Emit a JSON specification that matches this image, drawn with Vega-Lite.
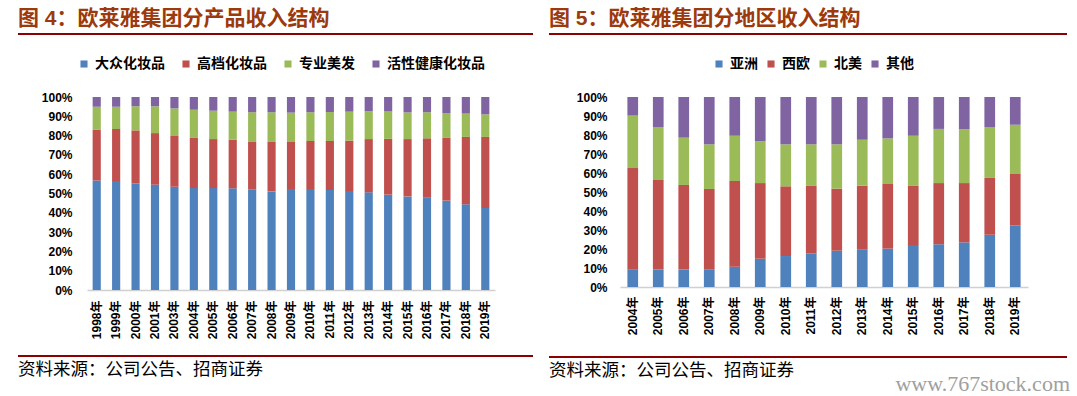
{
  "$schema": "https://vega.github.io/schema/vega-lite/v6.json",
  "background": "white",
  "padding": {"left": 18, "top": 8, "right": 0, "bottom": 0},
  "datasets": {
    "product": [
      {"year": "1998年", "cat": "大众化妆品", "k": 1, "v": 56.8}, {"year": "1998年", "cat": "高档化妆品", "k": 2, "v": 26.4}, {"year": "1998年", "cat": "专业美发", "k": 3, "v": 11.8}, {"year": "1998年", "cat": "活性健康化妆品", "k": 4, "v": 5.0},
      {"year": "1999年", "cat": "大众化妆品", "k": 1, "v": 56.5}, {"year": "1999年", "cat": "高档化妆品", "k": 2, "v": 26.9}, {"year": "1999年", "cat": "专业美发", "k": 3, "v": 11.6}, {"year": "1999年", "cat": "活性健康化妆品", "k": 4, "v": 5.0},
      {"year": "2000年", "cat": "大众化妆品", "k": 1, "v": 55.1}, {"year": "2000年", "cat": "高档化妆品", "k": 2, "v": 27.6}, {"year": "2000年", "cat": "专业美发", "k": 3, "v": 12.5}, {"year": "2000年", "cat": "活性健康化妆品", "k": 4, "v": 4.8},
      {"year": "2001年", "cat": "大众化妆品", "k": 1, "v": 54.6}, {"year": "2001年", "cat": "高档化妆品", "k": 2, "v": 26.7}, {"year": "2001年", "cat": "专业美发", "k": 3, "v": 13.9}, {"year": "2001年", "cat": "活性健康化妆品", "k": 4, "v": 4.8},
      {"year": "2003年", "cat": "大众化妆品", "k": 1, "v": 53.5}, {"year": "2003年", "cat": "高档化妆品", "k": 2, "v": 26.3}, {"year": "2003年", "cat": "专业美发", "k": 3, "v": 14.3}, {"year": "2003年", "cat": "活性健康化妆品", "k": 4, "v": 5.9},
      {"year": "2004年", "cat": "大众化妆品", "k": 1, "v": 52.8}, {"year": "2004年", "cat": "高档化妆品", "k": 2, "v": 26.0}, {"year": "2004年", "cat": "专业美发", "k": 3, "v": 14.6}, {"year": "2004年", "cat": "活性健康化妆品", "k": 4, "v": 6.6},
      {"year": "2005年", "cat": "大众化妆品", "k": 1, "v": 52.8}, {"year": "2005年", "cat": "高档化妆品", "k": 2, "v": 25.4}, {"year": "2005年", "cat": "专业美发", "k": 3, "v": 14.7}, {"year": "2005年", "cat": "活性健康化妆品", "k": 4, "v": 7.1},
      {"year": "2006年", "cat": "大众化妆品", "k": 1, "v": 52.7}, {"year": "2006年", "cat": "高档化妆品", "k": 2, "v": 25.2}, {"year": "2006年", "cat": "专业美发", "k": 3, "v": 14.5}, {"year": "2006年", "cat": "活性健康化妆品", "k": 4, "v": 7.6},
      {"year": "2007年", "cat": "大众化妆品", "k": 1, "v": 52.2}, {"year": "2007年", "cat": "高档化妆品", "k": 2, "v": 24.5}, {"year": "2007年", "cat": "专业美发", "k": 3, "v": 15.4}, {"year": "2007年", "cat": "活性健康化妆品", "k": 4, "v": 7.9},
      {"year": "2008年", "cat": "大众化妆品", "k": 1, "v": 51.1}, {"year": "2008年", "cat": "高档化妆品", "k": 2, "v": 25.6}, {"year": "2008年", "cat": "专业美发", "k": 3, "v": 15.4}, {"year": "2008年", "cat": "活性健康化妆品", "k": 4, "v": 7.9},
      {"year": "2009年", "cat": "大众化妆品", "k": 1, "v": 52.3}, {"year": "2009年", "cat": "高档化妆品", "k": 2, "v": 24.7}, {"year": "2009年", "cat": "专业美发", "k": 3, "v": 14.9}, {"year": "2009年", "cat": "活性健康化妆品", "k": 4, "v": 8.1},
      {"year": "2010年", "cat": "大众化妆品", "k": 1, "v": 52.3}, {"year": "2010年", "cat": "高档化妆品", "k": 2, "v": 24.9}, {"year": "2010年", "cat": "专业美发", "k": 3, "v": 14.9}, {"year": "2010年", "cat": "活性健康化妆品", "k": 4, "v": 7.9},
      {"year": "2011年", "cat": "大众化妆品", "k": 1, "v": 51.8}, {"year": "2011年", "cat": "高档化妆品", "k": 2, "v": 25.4}, {"year": "2011年", "cat": "专业美发", "k": 3, "v": 15.0}, {"year": "2011年", "cat": "活性健康化妆品", "k": 4, "v": 7.8},
      {"year": "2012年", "cat": "大众化妆品", "k": 1, "v": 51.3}, {"year": "2012年", "cat": "高档化妆品", "k": 2, "v": 26.1}, {"year": "2012年", "cat": "专业美发", "k": 3, "v": 15.0}, {"year": "2012年", "cat": "活性健康化妆品", "k": 4, "v": 7.6},
      {"year": "2013年", "cat": "大众化妆品", "k": 1, "v": 50.6}, {"year": "2013年", "cat": "高档化妆品", "k": 2, "v": 27.6}, {"year": "2013年", "cat": "专业美发", "k": 3, "v": 14.4}, {"year": "2013年", "cat": "活性健康化妆品", "k": 4, "v": 7.4},
      {"year": "2014年", "cat": "大众化妆品", "k": 1, "v": 49.4}, {"year": "2014年", "cat": "高档化妆品", "k": 2, "v": 28.9}, {"year": "2014年", "cat": "专业美发", "k": 3, "v": 14.2}, {"year": "2014年", "cat": "活性健康化妆品", "k": 4, "v": 7.5},
      {"year": "2015年", "cat": "大众化妆品", "k": 1, "v": 48.5}, {"year": "2015年", "cat": "高档化妆品", "k": 2, "v": 29.7}, {"year": "2015年", "cat": "专业美发", "k": 3, "v": 13.8}, {"year": "2015年", "cat": "活性健康化妆品", "k": 4, "v": 8.0},
      {"year": "2016年", "cat": "大众化妆品", "k": 1, "v": 48.0}, {"year": "2016年", "cat": "高档化妆品", "k": 2, "v": 30.6}, {"year": "2016年", "cat": "专业美发", "k": 3, "v": 13.5}, {"year": "2016年", "cat": "活性健康化妆品", "k": 4, "v": 7.9},
      {"year": "2017年", "cat": "大众化妆品", "k": 1, "v": 46.3}, {"year": "2017年", "cat": "高档化妆品", "k": 2, "v": 32.5}, {"year": "2017年", "cat": "专业美发", "k": 3, "v": 12.9}, {"year": "2017年", "cat": "活性健康化妆品", "k": 4, "v": 8.3},
      {"year": "2018年", "cat": "大众化妆品", "k": 1, "v": 44.4}, {"year": "2018年", "cat": "高档化妆品", "k": 2, "v": 34.9}, {"year": "2018年", "cat": "专业美发", "k": 3, "v": 12.1}, {"year": "2018年", "cat": "活性健康化妆品", "k": 4, "v": 8.6},
      {"year": "2019年", "cat": "大众化妆品", "k": 1, "v": 42.5}, {"year": "2019年", "cat": "高档化妆品", "k": 2, "v": 36.8}, {"year": "2019年", "cat": "专业美发", "k": 3, "v": 11.7}, {"year": "2019年", "cat": "活性健康化妆品", "k": 4, "v": 9.0}
    ],
    "region": [
      {"year": "2004年", "cat": "亚洲", "k": 1, "v": 9.1}, {"year": "2004年", "cat": "西欧", "k": 2, "v": 53.5}, {"year": "2004年", "cat": "北美", "k": 3, "v": 27.6}, {"year": "2004年", "cat": "其他", "k": 4, "v": 9.8},
      {"year": "2005年", "cat": "亚洲", "k": 1, "v": 9.3}, {"year": "2005年", "cat": "西欧", "k": 2, "v": 47.0}, {"year": "2005年", "cat": "北美", "k": 3, "v": 27.9}, {"year": "2005年", "cat": "其他", "k": 4, "v": 15.8},
      {"year": "2006年", "cat": "亚洲", "k": 1, "v": 9.3}, {"year": "2006年", "cat": "西欧", "k": 2, "v": 44.4}, {"year": "2006年", "cat": "北美", "k": 3, "v": 24.9}, {"year": "2006年", "cat": "其他", "k": 4, "v": 21.4},
      {"year": "2007年", "cat": "亚洲", "k": 1, "v": 9.1}, {"year": "2007年", "cat": "西欧", "k": 2, "v": 42.5}, {"year": "2007年", "cat": "北美", "k": 3, "v": 23.5}, {"year": "2007年", "cat": "其他", "k": 4, "v": 24.9},
      {"year": "2008年", "cat": "亚洲", "k": 1, "v": 10.7}, {"year": "2008年", "cat": "西欧", "k": 2, "v": 45.1}, {"year": "2008年", "cat": "北美", "k": 3, "v": 23.8}, {"year": "2008年", "cat": "其他", "k": 4, "v": 20.4},
      {"year": "2009年", "cat": "亚洲", "k": 1, "v": 14.9}, {"year": "2009年", "cat": "西欧", "k": 2, "v": 39.8}, {"year": "2009年", "cat": "北美", "k": 3, "v": 22.0}, {"year": "2009年", "cat": "其他", "k": 4, "v": 23.3},
      {"year": "2010年", "cat": "亚洲", "k": 1, "v": 16.3}, {"year": "2010年", "cat": "西欧", "k": 2, "v": 36.7}, {"year": "2010年", "cat": "北美", "k": 3, "v": 22.1}, {"year": "2010年", "cat": "其他", "k": 4, "v": 24.9},
      {"year": "2011年", "cat": "亚洲", "k": 1, "v": 17.7}, {"year": "2011年", "cat": "西欧", "k": 2, "v": 35.5}, {"year": "2011年", "cat": "北美", "k": 3, "v": 21.9}, {"year": "2011年", "cat": "其他", "k": 4, "v": 24.9},
      {"year": "2012年", "cat": "亚洲", "k": 1, "v": 19.1}, {"year": "2012年", "cat": "西欧", "k": 2, "v": 32.7}, {"year": "2012年", "cat": "北美", "k": 3, "v": 23.3}, {"year": "2012年", "cat": "其他", "k": 4, "v": 24.9},
      {"year": "2013年", "cat": "亚洲", "k": 1, "v": 19.6}, {"year": "2013年", "cat": "西欧", "k": 2, "v": 33.7}, {"year": "2013年", "cat": "北美", "k": 3, "v": 24.2}, {"year": "2013年", "cat": "其他", "k": 4, "v": 22.5},
      {"year": "2014年", "cat": "亚洲", "k": 1, "v": 20.2}, {"year": "2014年", "cat": "西欧", "k": 2, "v": 34.0}, {"year": "2014年", "cat": "北美", "k": 3, "v": 24.0}, {"year": "2014年", "cat": "其他", "k": 4, "v": 21.8},
      {"year": "2015年", "cat": "亚洲", "k": 1, "v": 21.6}, {"year": "2015年", "cat": "西欧", "k": 2, "v": 31.6}, {"year": "2015年", "cat": "北美", "k": 3, "v": 26.4}, {"year": "2015年", "cat": "其他", "k": 4, "v": 20.4},
      {"year": "2016年", "cat": "亚洲", "k": 1, "v": 22.5}, {"year": "2016年", "cat": "西欧", "k": 2, "v": 32.2}, {"year": "2016年", "cat": "北美", "k": 3, "v": 28.5}, {"year": "2016年", "cat": "其他", "k": 4, "v": 16.8},
      {"year": "2017年", "cat": "亚洲", "k": 1, "v": 23.5}, {"year": "2017年", "cat": "西欧", "k": 2, "v": 31.2}, {"year": "2017年", "cat": "北美", "k": 3, "v": 28.3}, {"year": "2017年", "cat": "其他", "k": 4, "v": 17.0},
      {"year": "2018年", "cat": "亚洲", "k": 1, "v": 27.5}, {"year": "2018年", "cat": "西欧", "k": 2, "v": 29.9}, {"year": "2018年", "cat": "北美", "k": 3, "v": 26.8}, {"year": "2018年", "cat": "其他", "k": 4, "v": 15.8},
      {"year": "2019年", "cat": "亚洲", "k": 1, "v": 32.3}, {"year": "2019年", "cat": "西欧", "k": 2, "v": 27.5}, {"year": "2019年", "cat": "北美", "k": 3, "v": 25.6}, {"year": "2019年", "cat": "其他", "k": 4, "v": 14.6}
    ]
  },
  "title": {"text": "www.767stock.com", "orient": "bottom", "anchor": "end", "font": "Liberation Serif", "fontSize": 22, "fontWeight": "normal", "color": "#A0A0A0", "offset": -6, "dx": 3},
  "spacing": 16,
  "resolve": {"scale": {"color": "independent", "x": "independent", "y": "independent"}, "legend": {"color": "independent"}},
  "hconcat": [
    {
      "columns": 1, "spacing": 22,
      "resolve": {"scale": {"color": "independent"}, "legend": {"color": "independent"}},
      "concat": [
        {
          "data": {"values": [{}]},
          "mark": {"type": "rect", "color": "#8B0000"},
          "encoding": {},
          "width": 515, "height": 2,
          "title": {"text": "图 4：欧莱雅集团分产品收入结构", "orient": "top", "anchor": "start", "offset": 4, "font": "Liberation Sans, Noto Sans CJK SC", "fontSize": 21, "fontWeight": "bold", "color": "#9C3A0E"}
        },
        {
          "columns": 1, "spacing": 16,
          "resolve": {"scale": {"color": "independent"}, "legend": {"color": "independent"}},
          "concat": [
            {
              "data": {"name": "product"},
              "width": 477, "height": 193,
              "mark": {"type": "bar"},
              "encoding": {
                "x": {"field": "year", "type": "nominal", "sort": null, "title": null,
                      "scale": {"range": [69, 477], "paddingInner": 0.58, "paddingOuter": 0.29},
                      "axis": {"labelAngle": -90, "labelPadding": 10, "ticks": false, "domainColor": "#D0D0D0", "domainWidth": 1.5, "labelFontSize": 12, "labelFontWeight": "bold", "minExtent": 49}},
                "y": {"field": "v", "type": "quantitative", "stack": "normalize", "title": null,
                      "axis": {"values": [0, 0.1, 0.2, 0.3, 0.4, 0.5, 0.6, 0.7, 0.8, 0.9, 1], "format": ".0%", "grid": false, "domain": false, "ticks": false, "offset": -69, "labelPadding": 15, "labelFontSize": 12, "labelFontWeight": "bold"}},
                "order": {"field": "k", "type": "quantitative", "sort": "ascending"},
                "color": {"field": "cat", "type": "nominal", "sort": ["大众化妆品", "高档化妆品", "专业美发", "活性健康化妆品"],
                          "scale": {"domain": ["大众化妆品", "高档化妆品", "专业美发", "活性健康化妆品"], "range": ["#4F81BD", "#C0504D", "#9BBB59", "#8064A2"]},
                          "legend": {"orient": "none", "legendX": 59, "legendY": -40, "direction": "horizontal", "columnPadding": 14}}
              }
            },
            {
              "data": {"values": [{}]},
              "mark": {"type": "rect", "color": "#8B0000"},
              "encoding": {},
              "width": 515, "height": 2,
              "title": {"text": "资料来源：公司公告、招商证券", "orient": "bottom", "anchor": "start", "offset": 4, "font": "Noto Sans CJK SC", "fontSize": 17.5, "fontWeight": "normal", "color": "#000000"}
            }
          ]
        }
      ]
    },
    {
      "columns": 1, "spacing": 22,
      "resolve": {"scale": {"color": "independent"}, "legend": {"color": "independent"}},
      "concat": [
        {
          "data": {"values": [{}]},
          "mark": {"type": "rect", "color": "#8B0000"},
          "encoding": {},
          "width": 518, "height": 2,
          "title": {"text": "图 5：欧莱雅集团分地区收入结构", "orient": "top", "anchor": "start", "offset": 4, "font": "Liberation Sans, Noto Sans CJK SC", "fontSize": 21, "fontWeight": "bold", "color": "#9C3A0E"}
        },
        {
          "columns": 1, "spacing": 16,
          "resolve": {"scale": {"color": "independent"}, "legend": {"color": "independent"}},
          "concat": [
            {
              "data": {"name": "region"},
              "width": 479, "height": 190,
              "mark": {"type": "bar"},
              "encoding": {
                "x": {"field": "year", "type": "nominal", "sort": null, "title": null,
                      "scale": {"range": [71, 479], "paddingInner": 0.58, "paddingOuter": 0.29},
                      "axis": {"labelAngle": -90, "labelPadding": 9, "ticks": false, "domainColor": "#D0D0D0", "domainWidth": 1.5, "labelFontSize": 12, "labelFontWeight": "bold", "minExtent": 53}},
                "y": {"field": "v", "type": "quantitative", "stack": "normalize", "title": null,
                      "axis": {"values": [0, 0.1, 0.2, 0.3, 0.4, 0.5, 0.6, 0.7, 0.8, 0.9, 1], "format": ".0%", "grid": false, "domain": false, "ticks": false, "offset": -71, "labelPadding": 13, "labelFontSize": 12, "labelFontWeight": "bold"}},
                "order": {"field": "k", "type": "quantitative", "sort": "ascending"},
                "color": {"field": "cat", "type": "nominal", "sort": ["亚洲", "西欧", "北美", "其他"],
                          "scale": {"domain": ["亚洲", "西欧", "北美", "其他"], "range": ["#4F81BD", "#C0504D", "#9BBB59", "#8064A2"]},
                          "legend": {"orient": "none", "legendX": 163, "legendY": -40, "direction": "horizontal", "columnPadding": 6}}
              }
            },
            {
              "data": {"values": [{}]},
              "mark": {"type": "rect", "color": "#8B0000"},
              "encoding": {},
              "width": 518, "height": 2,
              "title": {"text": "资料来源：公司公告、招商证券", "orient": "bottom", "anchor": "start", "offset": 4, "font": "Noto Sans CJK SC", "fontSize": 17.5, "fontWeight": "normal", "color": "#000000"}
            }
          ]
        }
      ]
    }
  ],
  "config": {
    "view": {"stroke": null},
    "axis": {"labelFont": "Liberation Sans, Noto Sans CJK SC", "labelColor": "#000000"},
    "legend": {"title": null, "symbolType": "square", "symbolSize": 50, "symbolStrokeWidth": 0, "symbolOpacity": 1, "labelFont": "Noto Sans CJK SC", "labelFontSize": 14, "labelFontWeight": "bold", "labelColor": "#000000", "labelOffset": 4}
  }
}
